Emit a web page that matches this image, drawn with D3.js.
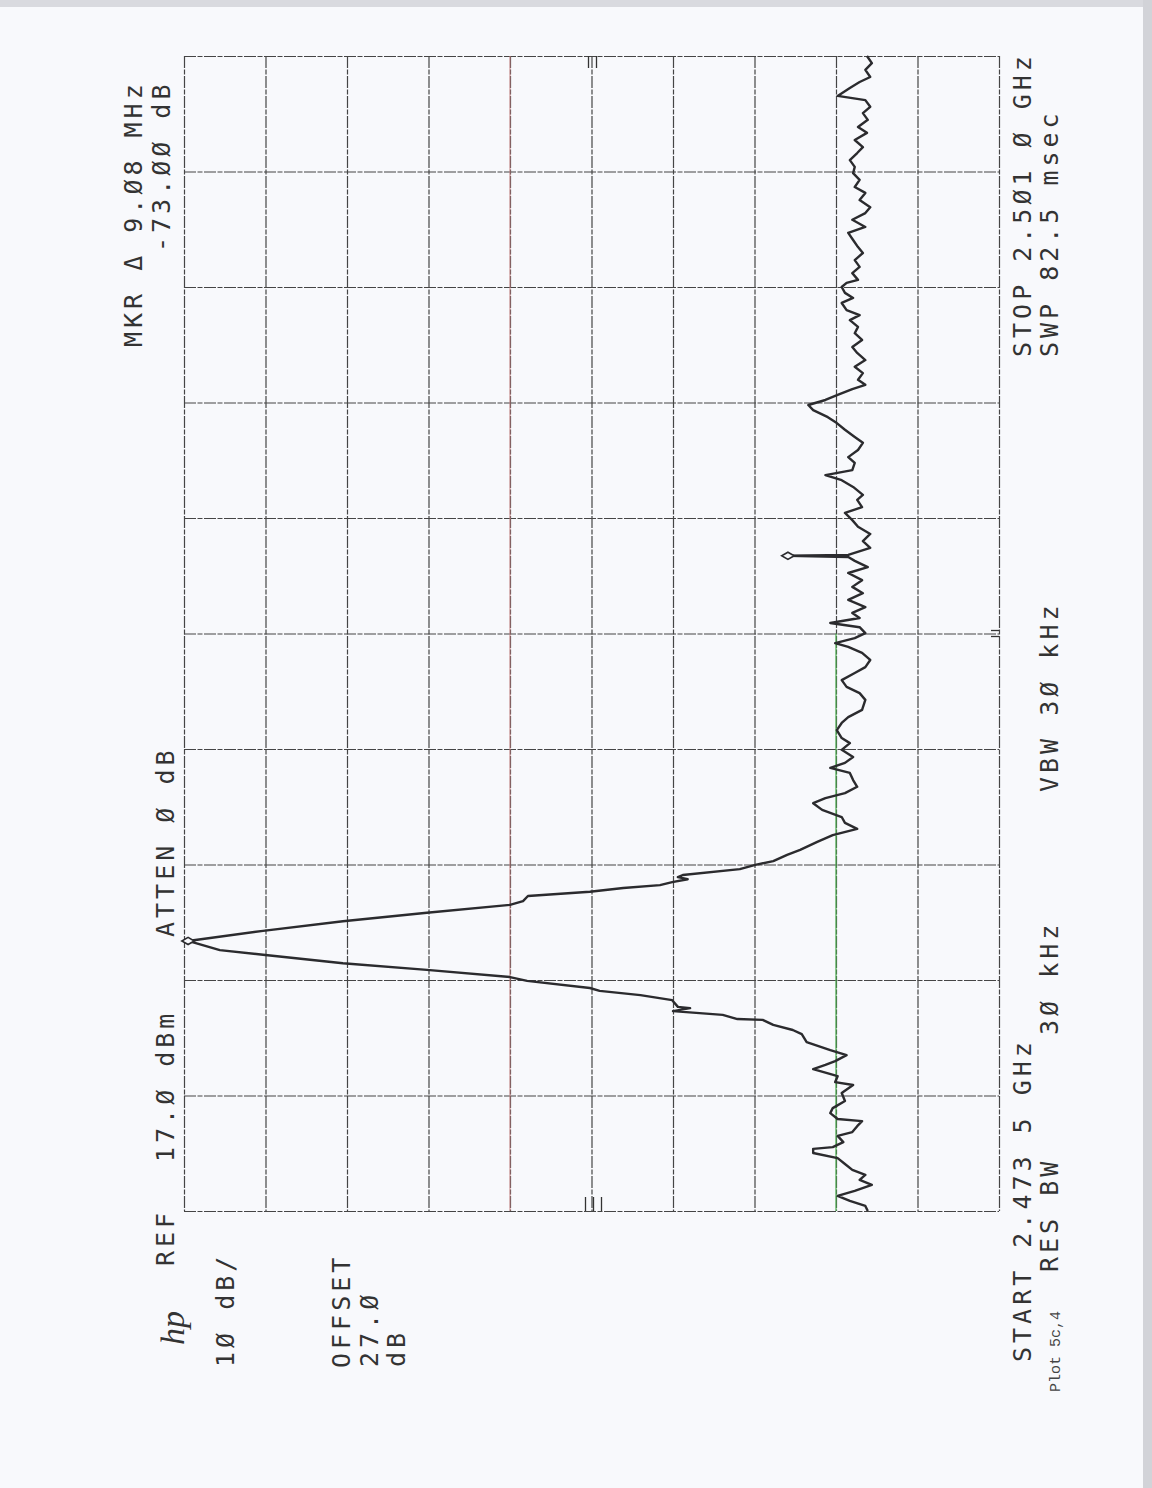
<!DOCTYPE html>
<html>
<head>
<meta charset="utf-8">
<script src="https://cdn.jsdelivr.net/npm/d3@7"></script>
<style>
body{margin:0;background:#f8f9fc;}
svg{display:block;}
.lbl{font-family:"DejaVu Sans Mono",monospace;font-size:25px;fill:#333;letter-spacing:4px;}
.small{font-family:"Liberation Mono",monospace;font-size:15px;fill:#444;}
.grid line{stroke:#454545;stroke-width:1.2;stroke-dasharray:12,1.5,5,1.5;}
.grid path{display:none;}
.grid text{display:none;}
</style>
</head>
<body>
<svg width="1152" height="1488"></svg>
<script>
"use strict";

// sweep: frequency (MHz) and level (dBm)
var freqMHz=[2473.50,2473.62,2473.74,2473.86,2473.98,2474.12,2474.24,2474.36,2474.48,2474.62,
	2474.76,2474.88,2474.98,2475.02,2475.14,2475.29,2475.38,2475.52,2475.64,2475.69,
	2475.83,2475.95,2476.12,2476.31,2476.50,2476.57,2476.71,2476.88,2476.98,2477.07,
	2477.21,2477.33,2477.52,2477.71,2477.81,2477.93,2478.05,2478.07,2478.17,2478.26,
	2478.33,2478.36,2478.52,2478.64,2478.74,2478.81,2478.98,2479.07,2479.24,2479.40,
	2479.60,2479.71,2479.93,2480.17,2480.40,2480.60,2480.79,2480.88,2481.00,2481.10,
	2481.19,2481.26,2481.33,2481.40,2481.45,2481.50,2481.64,2481.74,2481.83,2481.98,
	2482.10,2482.29,2482.45,2482.60,2482.74,2482.88,2483.05,2483.21,2483.33,2483.45,
	2483.60,2483.76,2483.93,2484.05,2484.17,2484.31,2484.48,2484.64,2484.76,2484.95,
	2485.12,2485.26,2485.43,2485.67,2485.83,2485.98,2486.14,2486.31,2486.45,2486.62,
	2486.79,2486.93,2487.02,2487.14,2487.26,2487.40,2487.50,2487.62,2487.74,2487.88,
	2488.05,2488.21,2488.36,2488.52,2488.69,2488.83,2488.98,2489.07,2489.10,2489.12,
	2489.29,2489.45,2489.62,2489.79,2489.95,2490.12,2490.26,2490.43,2490.55,2490.74,
	2490.90,2491.02,2491.14,2491.31,2491.45,2491.62,2491.79,2491.93,2492.10,2492.26,
	2492.40,2492.57,2492.69,2492.81,2492.93,2493.07,2493.17,2493.29,2493.45,2493.60,
	2493.76,2493.93,2494.07,2494.24,2494.40,2494.55,2494.71,2494.83,2494.95,2495.12,
	2495.24,2495.36,2495.50,2495.60,2495.67,2495.83,2495.98,2496.14,2496.31,2496.45,
	2496.62,2496.79,2496.93,2497.10,2497.26,2497.40,2497.57,2497.74,2497.88,2498.05,
	2498.21,2498.36,2498.52,2498.69,2498.83,2499.00,2499.17,2499.31,2499.48,2499.64,
	2499.79,2499.95,2500.05,2500.24,2500.38,2500.50,2500.67,2500.83,2501.00];
var levelDbm=[-66.9,-66.6,-64.7,-63.2,-65.3,-67.4,-65.9,-66.6,-65.0,-64.1,
	-63.2,-60.2,-60.2,-62.6,-63.9,-63.2,-65.0,-65.6,-66.2,-63.2,
	-62.3,-62.6,-64.1,-63.7,-65.1,-62.9,-63.2,-60.2,-61.7,-62.9,
	-64.3,-62.3,-59.4,-58.8,-57.7,-55.3,-54.0,-50.9,-49.1,-43.0,
	-45.1,-43.6,-42.9,-39.0,-34.0,-32.8,-25.1,-23.0,-12.8,-2.5,
	7.3,12.6,16.5,7.3,-2.5,-12.8,-23.0,-24.6,-25.2,-32.8,
	-36.9,-41.4,-42.9,-44.8,-43.6,-44.2,-51.2,-53.1,-55.3,-57.0,
	-58.6,-60.7,-62.6,-65.6,-64.1,-63.7,-61.3,-60.2,-61.7,-64.1,
	-65.6,-65.1,-64.7,-62.3,-64.1,-65.1,-63.7,-64.7,-63.7,-63.1,
	-63.7,-64.5,-66.2,-66.6,-65.9,-64.3,-63.7,-65.3,-66.6,-67.2,
	-66.2,-64.5,-62.9,-65.3,-66.6,-65.9,-62.3,-65.9,-65.0,-66.6,
	-64.5,-66.3,-65.0,-66.2,-64.5,-66.9,-65.3,-64.5,-57.1,-64.5,
	-67.2,-66.3,-67.2,-65.7,-65.0,-64.1,-66.2,-65.6,-66.3,-65.1,
	-63.7,-61.7,-65.0,-65.3,-64.5,-65.7,-66.3,-65.3,-64.1,-63.1,
	-62.0,-60.2,-59.6,-61.7,-63.2,-65.0,-66.6,-65.7,-66.3,-65.3,
	-66.6,-65.6,-65.0,-66.2,-65.3,-65.7,-64.7,-65.9,-64.3,-63.7,
	-65.1,-64.1,-63.7,-64.3,-65.7,-65.0,-65.9,-65.3,-66.3,-65.7,
	-65.1,-64.5,-66.6,-65.0,-66.6,-67.2,-65.9,-66.6,-65.3,-65.9,
	-65.1,-65.3,-64.7,-65.6,-66.3,-65.3,-66.8,-65.7,-66.9,-66.3,
	-67.2,-66.6,-63.2,-64.7,-65.9,-67.2,-66.6,-67.4,-66.8];

// graticule: 10 dB/div from REF 17 dBm, 2.75 MHz/div from START to STOP
var levelTicks=[17,7,-3,-13,-23,-33,-43,-53,-63,-73,-83];
var freqTicks=[2473.5,2476.25,2479,2481.75,2484.5,2487.25,2490,2492.75,2495.5,2498.25,2501];

// marker (peak) and delta marker
var markerFreq=[2479.93,2489.10];
var markerLevel=[16.5,-57.1];

var refLine=-23;      // red line
var displayLine=-63;  // green line

var svg=d3.select("svg");

// scan edges
svg.append("rect").attr("x",0).attr("y",0).attr("width",1152).attr("height",1488).attr("fill","#f8f9fc");
svg.append("rect").attr("x",0).attr("y",0).attr("width",1152).attr("height",7).attr("fill","#d9dadf");
svg.append("rect").attr("x",1143).attr("y",0).attr("width",9).attr("height",1488).attr("fill","#d2d3d8");

var xScale=d3.scaleLinear().domain([17,-83]).range([184,999]);
var yScale=d3.scaleLinear().domain([2473.5,2501]).range([1211,56]);

// grid (vertical lines: amplitude divisions)
svg.append("g")
	.attr("class","grid")
	.attr("transform","translate(0,56)")
	.call(d3.axisBottom(xScale).tickValues(levelTicks).tickSize(1155).tickFormat(""));

// grid (horizontal lines: frequency divisions)
svg.append("g")
	.attr("class","grid")
	.attr("transform","translate(184,0)")
	.call(d3.axisRight(yScale).tickValues(freqTicks).tickSize(815).tickFormat(""));

// red reference line and green display line
svg.append("line")
	.attr("x1",xScale(refLine)).attr("x2",xScale(refLine))
	.attr("y1",yScale(2501)).attr("y2",yScale(2473.5))
	.attr("stroke","#c98080").attr("stroke-width",1.2).attr("opacity",0.8);
svg.append("line")
	.attr("x1",xScale(displayLine)).attr("x2",xScale(displayLine))
	.attr("y1",yScale(2487.25)).attr("y2",yScale(2473.5))
	.attr("stroke","#4caf50").attr("stroke-width",1.4).attr("opacity",0.85);

// centre marks on the frame
var cx=xScale(-33), cy=yScale(2487.25);
[-3,5].forEach(function(d){
	svg.append("line").attr("x1",cx+d).attr("x2",cx+d).attr("y1",56).attr("y2",68).attr("stroke","#333").attr("stroke-width",1.3);
});
[-6,2,10].forEach(function(d){
	svg.append("line").attr("x1",cx+d).attr("x2",cx+d).attr("y1",1211).attr("y2",1197).attr("stroke","#333").attr("stroke-width",1.3);
});
[-3,3].forEach(function(d){
	svg.append("line").attr("x1",991).attr("x2",999).attr("y1",cy+d).attr("y2",cy+d).attr("stroke","#333").attr("stroke-width",1.3);
});

// trace
var trace=d3.line()
	.x(function(d,i){return xScale(levelDbm[i]);})
	.y(function(d){return yScale(d);});

svg.append("path")
	.attr("d",trace(freqMHz))
	.attr("fill","none")
	.attr("stroke","#2b2b2e")
	.attr("stroke-width",2.4)
	.attr("stroke-linejoin","round");

// marker diamonds
svg.selectAll("path.mkr")
	.data(markerFreq)
	.enter()
	.append("path")
	.attr("class","mkr")
	.attr("d",d3.symbol().type(d3.symbolDiamond).size(45))
	.attr("transform",function(d,i){return "translate("+xScale(markerLevel[i])+","+yScale(d)+") rotate(90)";})
	.attr("fill","#f8f9fc")
	.attr("stroke","#2b2b2e")
	.attr("stroke-width",1.6);

// annotations (printed sideways)
function label(txt,x,y,cls){
	svg.append("text")
		.attr("class",cls||"lbl")
		.attr("transform","translate("+x+","+y+") rotate(-90)")
		.text(txt);
}
label("MKR \u0394 9.\u00d88 MHz",142,347);
label("-73.\u00d8\u00d8 dB",170,252);
label("REF",174,1266);
label("17.\u00d8 dBm",174,1162);
label("ATTEN \u00d8 dB",174,937);
label("1\u00d8 dB/",234,1367);
label("OFFSET",350,1368);
label("27.\u00d8",378,1367);
label("dB",405,1367);
label("START 2.473 5 GHz",1031,1362);
label("RES BW",1058,1272);
label("3\u00d8 kHz",1058,1035);
label("VBW 3\u00d8 kHz",1058,792);
label("STOP 2.5\u00d81 \u00d8 GHz",1031,357);
label("SWP 82.5 msec",1058,357);
label("Plot 5c,4",1060,1392,"small");

svg.append("text")
	.attr("transform","translate(184,1345) rotate(-90)")
	.style("font-family","Liberation Serif")
	.style("font-style","italic")
	.style("font-size","34px")
	.style("fill","#333")
	.text("hp");
</script>
</body>
</html>
